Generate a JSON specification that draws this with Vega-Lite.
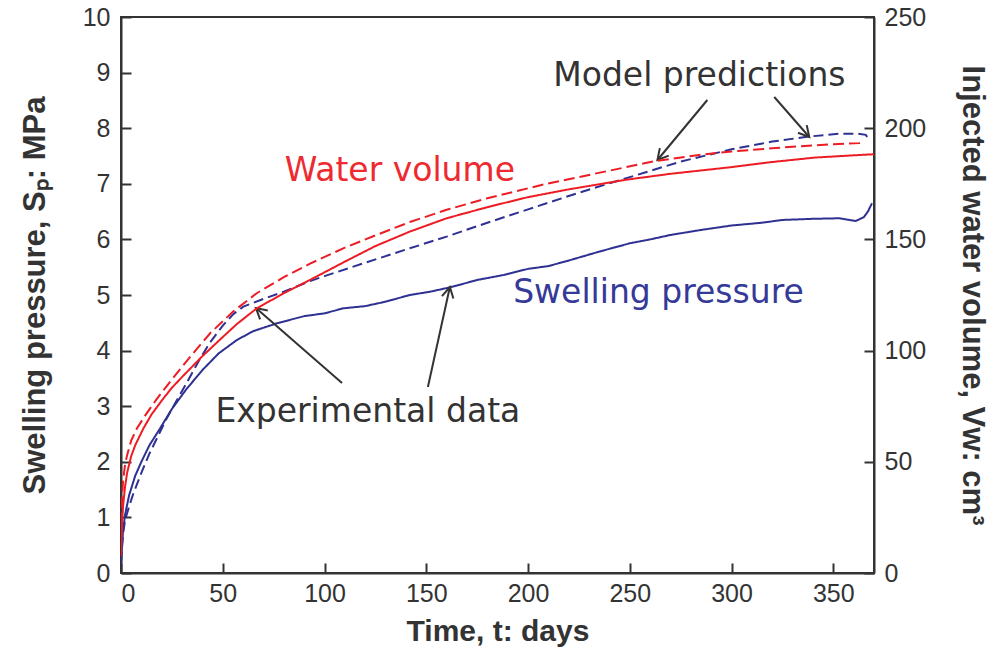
{
  "$schema": "https://vega.github.io/schema/vega-lite/v6.json",
  "width": 753,
  "height": 556,
  "autosize": "none",
  "padding": {"left": 121, "top": 17, "right": 126, "bottom": 74},
  "background": "white",
  "config": {
    "view": {"stroke": "#333333", "strokeWidth": 2},
    "axis": {
      "grid": false,
      "domainColor": "#333333",
      "domainWidth": 2,
      "tickColor": "#333333",
      "tickWidth": 2,
      "tickSize": -10,
      "labelFont": "Liberation Sans",
      "labelFontSize": 25,
      "labelColor": "#333333",
      "titleFont": "Liberation Sans",
      "titleFontSize": 31,
      "titleFontWeight": "bold",
      "titleColor": "#333333"
    }
  },
  "datasets": {
    "pressure": [
      {"day": 0, "mpa": 0.15, "source": "Experimental"},
      {"day": 0.5, "mpa": 0.5, "source": "Experimental"},
      {"day": 1, "mpa": 0.75, "source": "Experimental"},
      {"day": 2, "mpa": 1.05, "source": "Experimental"},
      {"day": 4, "mpa": 1.4, "source": "Experimental"},
      {"day": 7, "mpa": 1.75, "source": "Experimental"},
      {"day": 10, "mpa": 2.0, "source": "Experimental"},
      {"day": 14, "mpa": 2.3, "source": "Experimental"},
      {"day": 19.2, "mpa": 2.6, "source": "Experimental"},
      {"day": 25, "mpa": 2.95, "source": "Experimental"},
      {"day": 32, "mpa": 3.3, "source": "Experimental"},
      {"day": 40, "mpa": 3.65, "source": "Experimental"},
      {"day": 48, "mpa": 3.95, "source": "Experimental"},
      {"day": 56.9, "mpa": 4.19, "source": "Experimental"},
      {"day": 65, "mpa": 4.35, "source": "Experimental"},
      {"day": 76.5, "mpa": 4.49, "source": "Experimental"},
      {"day": 90, "mpa": 4.62, "source": "Experimental"},
      {"day": 100, "mpa": 4.67, "source": "Experimental"},
      {"day": 109.2, "mpa": 4.76, "source": "Experimental"},
      {"day": 120, "mpa": 4.8, "source": "Experimental"},
      {"day": 130, "mpa": 4.88, "source": "Experimental"},
      {"day": 141.9, "mpa": 5.0, "source": "Experimental"},
      {"day": 152, "mpa": 5.06, "source": "Experimental"},
      {"day": 162, "mpa": 5.14, "source": "Experimental"},
      {"day": 175, "mpa": 5.27, "source": "Experimental"},
      {"day": 188, "mpa": 5.36, "source": "Experimental"},
      {"day": 200, "mpa": 5.47, "source": "Experimental"},
      {"day": 210, "mpa": 5.52, "source": "Experimental"},
      {"day": 220, "mpa": 5.62, "source": "Experimental"},
      {"day": 235, "mpa": 5.78, "source": "Experimental"},
      {"day": 250, "mpa": 5.93, "source": "Experimental"},
      {"day": 260, "mpa": 6.0, "source": "Experimental"},
      {"day": 270, "mpa": 6.08, "source": "Experimental"},
      {"day": 285, "mpa": 6.17, "source": "Experimental"},
      {"day": 300, "mpa": 6.25, "source": "Experimental"},
      {"day": 315, "mpa": 6.3, "source": "Experimental"},
      {"day": 325, "mpa": 6.35, "source": "Experimental"},
      {"day": 340, "mpa": 6.37, "source": "Experimental"},
      {"day": 353, "mpa": 6.38, "source": "Experimental"},
      {"day": 361, "mpa": 6.33, "source": "Experimental"},
      {"day": 365, "mpa": 6.4, "source": "Experimental"},
      {"day": 367, "mpa": 6.5, "source": "Experimental"},
      {"day": 369, "mpa": 6.65, "source": "Experimental"},
      {"day": 0, "mpa": 0.2, "source": "Model"},
      {"day": 1, "mpa": 0.7, "source": "Model"},
      {"day": 2, "mpa": 0.95, "source": "Model"},
      {"day": 4, "mpa": 1.2, "source": "Model"},
      {"day": 6, "mpa": 1.42, "source": "Model"},
      {"day": 10, "mpa": 1.8, "source": "Model"},
      {"day": 14, "mpa": 2.15, "source": "Model"},
      {"day": 18, "mpa": 2.45, "source": "Model"},
      {"day": 22, "mpa": 2.75, "source": "Model"},
      {"day": 27, "mpa": 3.08, "source": "Model"},
      {"day": 32.3, "mpa": 3.42, "source": "Model"},
      {"day": 38, "mpa": 3.8, "source": "Model"},
      {"day": 43.8, "mpa": 4.15, "source": "Model"},
      {"day": 50, "mpa": 4.45, "source": "Model"},
      {"day": 55, "mpa": 4.65, "source": "Model"},
      {"day": 60.1, "mpa": 4.79, "source": "Model"},
      {"day": 70, "mpa": 4.93, "source": "Model"},
      {"day": 80, "mpa": 5.06, "source": "Model"},
      {"day": 92.9, "mpa": 5.25, "source": "Model"},
      {"day": 100, "mpa": 5.34, "source": "Model"},
      {"day": 120, "mpa": 5.58, "source": "Model"},
      {"day": 141.9, "mpa": 5.84, "source": "Model"},
      {"day": 160, "mpa": 6.05, "source": "Model"},
      {"day": 180, "mpa": 6.3, "source": "Model"},
      {"day": 200, "mpa": 6.54, "source": "Model"},
      {"day": 225, "mpa": 6.84, "source": "Model"},
      {"day": 250, "mpa": 7.12, "source": "Model"},
      {"day": 275, "mpa": 7.4, "source": "Model"},
      {"day": 300, "mpa": 7.62, "source": "Model"},
      {"day": 320, "mpa": 7.76, "source": "Model"},
      {"day": 338, "mpa": 7.85, "source": "Model"},
      {"day": 353, "mpa": 7.9, "source": "Model"},
      {"day": 362, "mpa": 7.9, "source": "Model"},
      {"day": 366, "mpa": 7.88, "source": "Model"},
      {"day": 367, "mpa": 7.82, "source": "Model"}
    ],
    "water": [
      {"day": 0, "cm3": 7.5, "source": "Experimental"},
      {"day": 0.5, "cm3": 22.5, "source": "Experimental"},
      {"day": 1, "cm3": 30, "source": "Experimental"},
      {"day": 2, "cm3": 38.8, "source": "Experimental"},
      {"day": 3, "cm3": 45, "source": "Experimental"},
      {"day": 5, "cm3": 52.5, "source": "Experimental"},
      {"day": 7, "cm3": 57.5, "source": "Experimental"},
      {"day": 11, "cm3": 65, "source": "Experimental"},
      {"day": 15, "cm3": 71.3, "source": "Experimental"},
      {"day": 20, "cm3": 77.5, "source": "Experimental"},
      {"day": 25, "cm3": 83.3, "source": "Experimental"},
      {"day": 30.7, "cm3": 88.8, "source": "Experimental"},
      {"day": 40, "cm3": 97.5, "source": "Experimental"},
      {"day": 48.7, "cm3": 105, "source": "Experimental"},
      {"day": 57, "cm3": 112, "source": "Experimental"},
      {"day": 66.7, "cm3": 119, "source": "Experimental"},
      {"day": 80, "cm3": 125.8, "source": "Experimental"},
      {"day": 92.9, "cm3": 131.8, "source": "Experimental"},
      {"day": 110, "cm3": 140, "source": "Experimental"},
      {"day": 125, "cm3": 147, "source": "Experimental"},
      {"day": 141.9, "cm3": 153.5, "source": "Experimental"},
      {"day": 160, "cm3": 159.5, "source": "Experimental"},
      {"day": 180, "cm3": 164.5, "source": "Experimental"},
      {"day": 200, "cm3": 169, "source": "Experimental"},
      {"day": 220, "cm3": 172.5, "source": "Experimental"},
      {"day": 248, "cm3": 176.8, "source": "Experimental"},
      {"day": 270, "cm3": 179.5, "source": "Experimental"},
      {"day": 300, "cm3": 182.5, "source": "Experimental"},
      {"day": 320, "cm3": 184.8, "source": "Experimental"},
      {"day": 341, "cm3": 186.8, "source": "Experimental"},
      {"day": 360, "cm3": 187.8, "source": "Experimental"},
      {"day": 370, "cm3": 188.3, "source": "Experimental"},
      {"day": 0, "cm3": 15, "source": "Model"},
      {"day": 0.5, "cm3": 32.5, "source": "Model"},
      {"day": 1, "cm3": 41.3, "source": "Model"},
      {"day": 2, "cm3": 48.8, "source": "Model"},
      {"day": 3, "cm3": 53, "source": "Model"},
      {"day": 5, "cm3": 59.5, "source": "Model"},
      {"day": 7.8, "cm3": 65, "source": "Model"},
      {"day": 12, "cm3": 71, "source": "Model"},
      {"day": 17, "cm3": 77.5, "source": "Model"},
      {"day": 22, "cm3": 83.5, "source": "Model"},
      {"day": 27.4, "cm3": 89.8, "source": "Model"},
      {"day": 35, "cm3": 98.3, "source": "Model"},
      {"day": 43.8, "cm3": 107.8, "source": "Model"},
      {"day": 55, "cm3": 117.5, "source": "Model"},
      {"day": 66.7, "cm3": 125.8, "source": "Model"},
      {"day": 80, "cm3": 133, "source": "Model"},
      {"day": 92.9, "cm3": 139.1, "source": "Model"},
      {"day": 110, "cm3": 146.3, "source": "Model"},
      {"day": 125, "cm3": 151.8, "source": "Model"},
      {"day": 141.9, "cm3": 157.8, "source": "Model"},
      {"day": 160, "cm3": 163.3, "source": "Model"},
      {"day": 180, "cm3": 168.5, "source": "Model"},
      {"day": 209, "cm3": 175, "source": "Model"},
      {"day": 230, "cm3": 179, "source": "Model"},
      {"day": 263, "cm3": 185.3, "source": "Model"},
      {"day": 284, "cm3": 188, "source": "Model"},
      {"day": 300, "cm3": 189.5, "source": "Model"},
      {"day": 320, "cm3": 191, "source": "Model"},
      {"day": 340, "cm3": 192.3, "source": "Model"},
      {"day": 362.8, "cm3": 193.3, "source": "Model"},
      {"day": 365, "cm3": 193.5, "source": "Model"}
    ],
    "arrows": [
      {"x1": 108.6, "y1": 3.417, "x2": 66.3, "y2": 4.766, "angle": 311},
      {"x1": 150.8, "y1": 3.345, "x2": 161.6, "y2": 5.144, "angle": 12},
      {"x1": 288.1, "y1": 8.507, "x2": 263.6, "y2": 7.428, "angle": 220},
      {"x1": 321.0, "y1": 8.561, "x2": 338.2, "y2": 7.842, "angle": 139}
    ],
    "notes": [
      {"day": 137, "mpa": 7.05, "label": "Water volume", "group": "water"},
      {"day": 284.2, "mpa": 8.76, "label": "Model predictions", "group": "note"},
      {"day": 264.1, "mpa": 4.86, "label": "Swelling pressure", "group": "pressure"},
      {"day": 121.3, "mpa": 2.72, "label": "Experimental data", "group": "note"}
    ]
  },
  "layer": [
    {
      "layer": [
        {
          "data": {"name": "pressure"},
          "mark": {"type": "line", "color": "#2e3192", "strokeWidth": 2, "clip": true},
          "encoding": {
            "x": {"field": "day", "type": "quantitative", "scale": {"domain": [0, 370], "nice": false},
              "axis": {"title": "Time, t: days", "titleFontSize": 30, "values": [0, 50, 100, 150, 200, 250, 300, 350], "labelFlush": true, "labelPadding": 18, "titlePadding": 10}},
            "y": {"field": "mpa", "type": "quantitative", "scale": {"domain": [0, 10], "nice": false},
              "axis": {"title": "Swelling pressure, Sₚ: MPa", "values": [0, 1, 2, 3, 4, 5, 6, 7, 8, 9, 10], "labelPadding": 21, "titlePadding": 31}},
            "strokeDash": {"field": "source", "type": "nominal", "scale": {"domain": ["Experimental", "Model"], "range": [[1, 0], [10, 5]]}, "legend": null}
          }
        },
        {
          "data": {"name": "arrows"},
          "mark": {"type": "rule", "color": "#333333", "strokeWidth": 2},
          "encoding": {
            "x": {"field": "x1", "type": "quantitative"},
            "y": {"field": "y1", "type": "quantitative"},
            "x2": {"field": "x2"},
            "y2": {"field": "y2"}
          }
        },
        {
          "data": {"name": "arrows"},
          "mark": {"type": "point", "shape": "M-0.55,1L0,0L0.55,1", "filled": false, "stroke": "#333333", "strokeWidth": 2, "size": 450, "opacity": 1},
          "encoding": {
            "x": {"field": "x2", "type": "quantitative"},
            "y": {"field": "y2", "type": "quantitative"},
            "angle": {"field": "angle", "type": "quantitative", "scale": null}
          }
        },
        {
          "data": {"name": "notes"},
          "mark": {"type": "text", "font": "DejaVu Sans", "fontSize": 33, "align": "center", "baseline": "alphabetic"},
          "encoding": {
            "x": {"field": "day", "type": "quantitative"},
            "y": {"field": "mpa", "type": "quantitative"},
            "text": {"field": "label"},
            "color": {"field": "group", "type": "nominal", "scale": {"domain": ["water", "pressure", "note"], "range": ["#ee2a31", "#353a99", "#333333"]}, "legend": null}
          }
        }
      ]
    },
    {
      "data": {"name": "water"},
      "mark": {"type": "line", "color": "#ed1c24", "strokeWidth": 2, "clip": true},
      "encoding": {
        "x": {"field": "day", "type": "quantitative"},
        "y": {"field": "cm3", "type": "quantitative", "scale": {"domain": [0, 250], "nice": false},
          "axis": {"orient": "right", "title": "Injected water volume, Vw: cm³", "values": [0, 50, 100, 150, 200, 250], "labelPadding": 20, "titlePadding": 30}},
        "strokeDash": {"field": "source", "type": "nominal", "scale": {"domain": ["Experimental", "Model"], "range": [[1, 0], [11, 5]]}, "legend": null}
      }
    }
  ],
  "resolve": {"scale": {"y": "independent", "strokeDash": "independent", "color": "independent"}}
}
